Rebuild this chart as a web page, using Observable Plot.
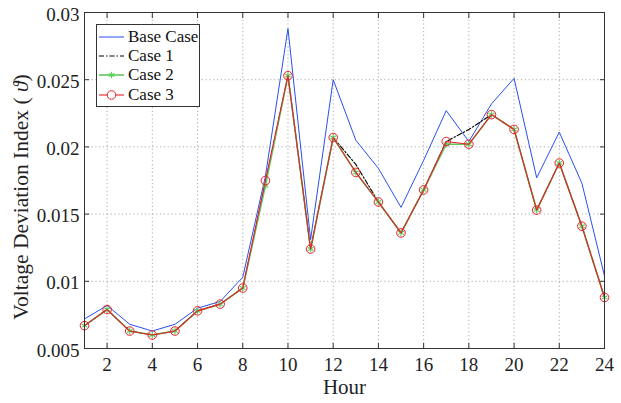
<!DOCTYPE html>
<html><head><meta charset="utf-8">
<script src="https://cdn.jsdelivr.net/npm/d3@7"></script>
<script src="https://cdn.jsdelivr.net/npm/@observablehq/plot@0.6"></script>
<style>
body{margin:0;background:#fff;}
#wrap{position:relative;width:621px;height:403px;font-family:"Liberation Serif","Times New Roman",serif;}
#legend{position:absolute;left:96px;top:24px;width:104px;height:83px;border:1px solid #333;background:#fff;box-sizing:border-box;padding-top:2px;}
.row{display:flex;align-items:center;height:19.3px;font-size:17px;color:#111;}
.row svg{margin-left:2px;margin-right:4px;}
</style></head>
<body>
<div id="wrap"></div>
<script>
const hours = [1,2,3,4,5,6,7,8,9,10,11,12,13,14,15,16,17,18,19,20,21,22,23,24];
const baseCase = [0.0072,0.0082,0.0068,0.0063,0.0068,0.0080,0.0085,0.0103,0.0178,0.0288,0.0131,0.0250,0.0205,0.0184,0.0155,0.0190,0.0227,0.0204,0.0232,0.0251,0.0177,0.0211,0.0173,0.0104];
const case1 = [0.0067,0.0079,0.0063,0.0060,0.0063,0.0078,0.0083,0.0095,0.0173,0.0253,0.0124,0.0207,0.0187,0.0159,0.0136,0.0168,0.0204,0.0213,0.0224,0.0213,0.0153,0.0188,0.0141,0.0088];
const case2 = [0.0067,0.0079,0.0063,0.0060,0.0063,0.0078,0.0083,0.0095,0.0171,0.0253,0.0124,0.0207,0.0181,0.0159,0.0136,0.0168,0.0202,0.0202,0.0224,0.0213,0.0153,0.0188,0.0141,0.0088];
const case3 = [0.0067,0.0079,0.0063,0.0060,0.0063,0.0078,0.0083,0.0095,0.0175,0.0253,0.0124,0.0207,0.0181,0.0159,0.0136,0.0168,0.0204,0.0202,0.0224,0.0213,0.0153,0.0188,0.0141,0.0088];
const seriesNames = ["Base Case","Case 1","Case 2","Case 3"];
const xTicks = [2,4,6,8,10,12,14,16,18,20,22,24];
const xTickLabels = ["2","4","6","8","10","12","14","16","18","20","22","24"];
const yTicks = [0.005,0.01,0.015,0.02,0.025,0.03];
const yTickLabels = ["0.005","0.01","0.015","0.02","0.025","0.03"];

const colors = {blue:"#2b4ff0", black:"#000", green:"#5ccb5c", red:"#e8202a"};
const toRows = (vals, name) => hours.map((h,i)=>({series:name, hour:h, value:vals[i]}));
const rBase = toRows(baseCase, seriesNames[0]);
const r1 = toRows(case1, seriesNames[1]);
const r2 = toRows(case2, seriesNames[2]);
const r3 = toRows(case3, seriesNames[3]);

const tickStyle = {stroke:"#333", tickFormat:()=>"", label:null};
const plot = Plot.plot({
  width:621, height:403,
  marginLeft:84, marginRight:17, marginTop:12, marginBottom:55,
  style:{fontFamily:"'Liberation Serif','Times New Roman',serif", fontSize:"19px", background:"white", color:"#222"},
  x:{domain:[1,24], label:null},
  y:{domain:[0.005,0.03], label:null},
  marks:[
    Plot.gridX(xTicks, {stroke:"#888", strokeOpacity:0.7, strokeDasharray:"1.2,2.6"}),
    Plot.gridY(yTicks, {stroke:"#888", strokeOpacity:0.7, strokeDasharray:"1.2,2.6"}),
    Plot.axisX(xTicks, {anchor:"bottom", tickSize:0, tickPadding:9, label:null, fill:"#222", fontSize:19, tickFormat:d=>xTickLabels[xTicks.indexOf(d)]}),
    Plot.axisX(xTicks, {anchor:"bottom", tickSize:5, dy:-5, ...tickStyle}),
    Plot.axisX(xTicks, {anchor:"top", tickSize:5, dy:5, ...tickStyle}),
    Plot.axisY(yTicks, {anchor:"left", tickSize:0, tickPadding:5, dy:2, label:null, fill:"#222", fontSize:19, tickFormat:d=>yTickLabels[yTicks.indexOf(d)]}),
    Plot.axisY(yTicks, {anchor:"left", tickSize:5, dx:5, ...tickStyle}),
    Plot.axisY(yTicks, {anchor:"right", tickSize:5, dx:-5, ...tickStyle}),
    Plot.line(rBase, {x:"hour", y:"value", stroke:colors.blue, strokeWidth:1}),
    Plot.line(r1, {x:"hour", y:"value", stroke:colors.black, strokeWidth:1.1, strokeDasharray:"5,2,1.5,2"}),
    Plot.line(r2, {x:"hour", y:"value", stroke:colors.green, strokeWidth:1.6}),
    Plot.dot(r2, {x:"hour", y:"value", symbol:"asterisk", stroke:colors.green, r:3.2, strokeWidth:1.1}),
    Plot.line(r3, {x:"hour", y:"value", stroke:colors.red, strokeWidth:1.1}),
    Plot.dot(r3, {x:"hour", y:"value", symbol:"circle", stroke:colors.red, fill:"none", r:4.3, strokeWidth:1}),
    Plot.frame({stroke:"#333"}),
    Plot.text(["Hour"], {frameAnchor:"bottom", dy:45, fontSize:21, fill:"#222"})
  ]
});
const svg = d3.select(plot);
svg.append("text")
  .attr("transform","translate(23,197) rotate(-90)")
  .attr("text-anchor","middle").attr("dominant-baseline","middle")
  .attr("font-size",21.5).attr("fill","#222")
  .html('Voltage Deviation Index ( <tspan font-style="italic">ϑ</tspan>)');
document.getElementById("wrap").appendChild(plot);

// legend
const legend = document.createElement("div");
legend.id = "legend";
const sample = {
  "Base Case": `<line x1="0" y1="9" x2="25" y2="9" stroke="${colors.blue}" stroke-width="1"/>`,
  "Case 1": `<line x1="0" y1="9" x2="25" y2="9" stroke="#000" stroke-width="1.1" stroke-dasharray="5,2,1.5,2"/>`,
  "Case 2": `<line x1="0" y1="9" x2="25" y2="9" stroke="${colors.green}" stroke-width="1.6"/><g stroke="${colors.green}" stroke-width="1.1"><line x1="12.5" y1="5.8" x2="12.5" y2="12.2"/><line x1="9.7" y1="7.4" x2="15.3" y2="10.6"/><line x1="9.7" y1="10.6" x2="15.3" y2="7.4"/></g>`,
  "Case 3": `<line x1="0" y1="9" x2="25" y2="9" stroke="${colors.red}" stroke-width="1.1"/><circle cx="12.5" cy="9" r="4.3" fill="white" stroke="${colors.red}"/>`
};
seriesNames.forEach(n => {
  const row = document.createElement("div");
  row.className = "row";
  row.innerHTML = `<svg width="25" height="18">${sample[n]}</svg><span>${n}</span>`;
  legend.appendChild(row);
});
document.getElementById("wrap").appendChild(legend);
</script>
</body></html>
